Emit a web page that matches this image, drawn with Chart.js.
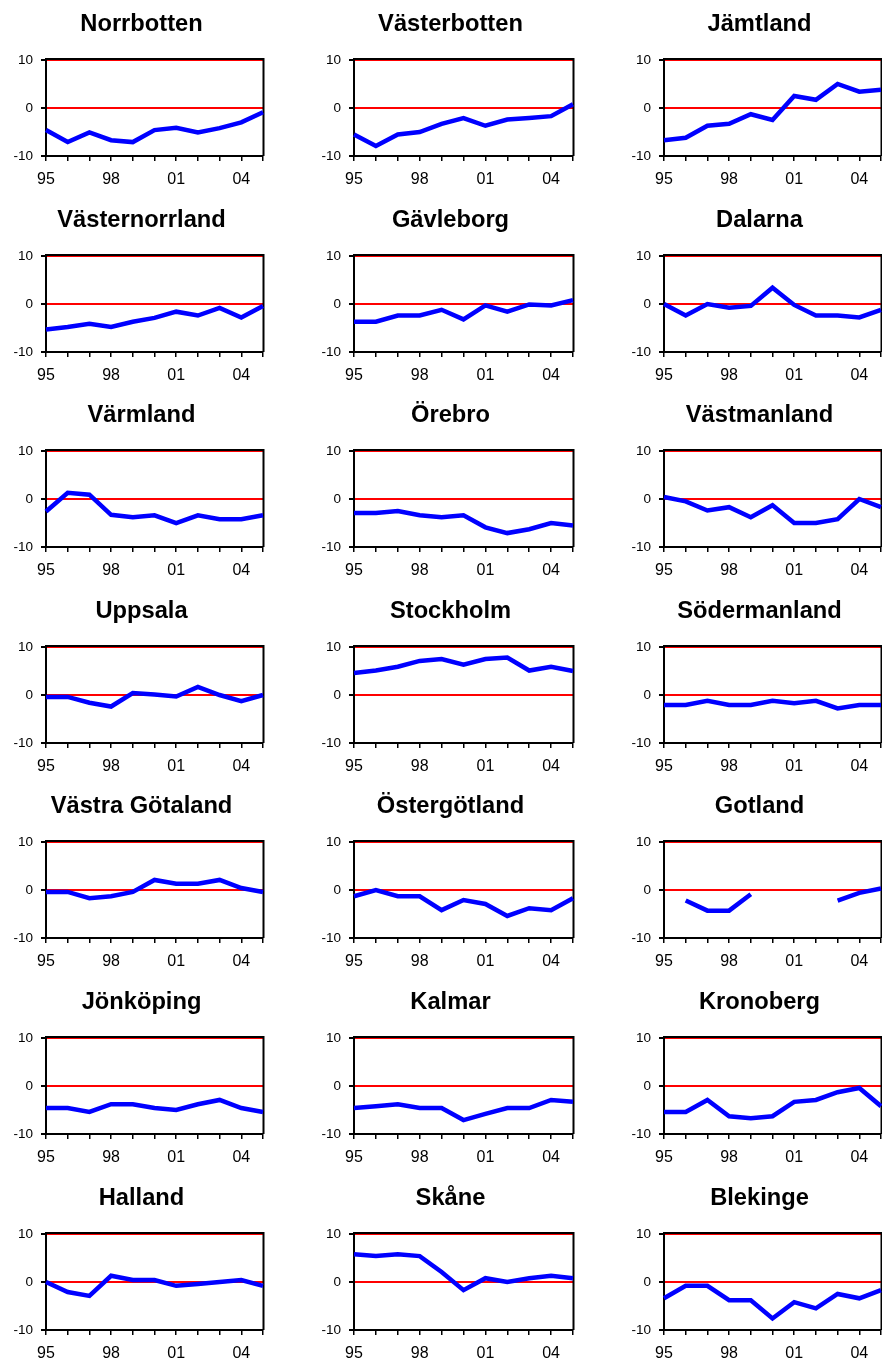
<!DOCTYPE html>
<html>
<head>
<meta charset="utf-8">
<script src="https://cdn.jsdelivr.net/npm/chart.js@4/dist/chart.umd.min.js"></script>
<style>
  html, body { margin: 0; padding: 0; background: #fff; }
  #wrap { position: relative; width: 882px; height: 1359px; overflow: hidden; }
  .panel { position: absolute; width: 294px; height: 196px; }
</style>
</head>
<body>
<div id="wrap"></div>
<script>
// ---- data ----
const years = ['95','96','97','98','99','00','01','02','03','04','05'];
const tickLabels = ['95','98','01','04'];
const yTicks = [-10, 0, 10];
const regionNames = [
  'Norrbotten','Västerbotten','Jämtland',
  'Västernorrland','Gävleborg','Dalarna',
  'Värmland','Örebro','Västmanland',
  'Uppsala','Stockholm','Södermanland',
  'Västra Götaland','Östergötland','Gotland',
  'Jönköping','Kalmar','Kronoberg',
  'Halland','Skåne','Blekinge'
];
const norrbotten     = [-4.6, -7.1, -5.1, -6.7, -7.1, -4.6, -4.1, -5.1, -4.2, -3.0, -0.9];
const vasterbotten   = [-5.5, -7.9, -5.5, -5.0, -3.3, -2.1, -3.7, -2.4, -2.1, -1.7, 0.8];
const jamtland       = [-6.7, -6.2, -3.7, -3.3, -1.3, -2.5, 2.5, 1.7, 5.0, 3.4, 3.8];
const vasternorrland = [-5.3, -4.8, -4.1, -4.8, -3.7, -2.9, -1.6, -2.4, -0.8, -2.8, -0.4];
const gavleborg      = [-3.7, -3.7, -2.4, -2.4, -1.2, -3.2, -0.3, -1.6, -0.1, -0.3, 0.8];
const dalarna        = [0.0, -2.4, 0.0, -0.8, -0.4, 3.4, -0.2, -2.4, -2.4, -2.8, -1.2];
const varmland       = [-2.6, 1.3, 0.9, -3.3, -3.8, -3.4, -5.0, -3.4, -4.2, -4.2, -3.4];
const orebro         = [-2.9, -2.9, -2.5, -3.4, -3.8, -3.4, -5.9, -7.1, -6.3, -5.0, -5.5];
const vastmanland    = [0.4, -0.5, -2.4, -1.7, -3.8, -1.3, -5.0, -5.0, -4.2, 0.0, -1.7];
const uppsala        = [-0.4, -0.4, -1.6, -2.4, 0.4, 0.1, -0.3, 1.7, 0.0, -1.3, 0.0];
const stockholm      = [4.6, 5.1, 5.9, 7.1, 7.5, 6.3, 7.5, 7.8, 5.1, 5.9, 5.0];
const sodermanland   = [-2.1, -2.1, -1.2, -2.1, -2.1, -1.2, -1.7, -1.2, -2.8, -2.1, -2.1];
const vastraGotaland = [-0.4, -0.4, -1.7, -1.3, -0.4, 2.1, 1.3, 1.3, 2.1, 0.4, -0.4];
const ostergotland   = [-1.3, 0.0, -1.3, -1.3, -4.2, -2.1, -2.9, -5.4, -3.8, -4.2, -1.7];
const gotland        = [null, -2.2, -4.3, -4.3, -0.9, null, null, null, -2.2, -0.6, 0.3];
const jonkoping      = [-4.6, -4.6, -5.4, -3.8, -3.8, -4.6, -5.0, -3.8, -2.9, -4.6, -5.4];
const kalmar         = [-4.6, -4.2, -3.8, -4.6, -4.6, -7.1, -5.8, -4.6, -4.6, -2.9, -3.3];
const kronoberg      = [-5.4, -5.4, -2.9, -6.3, -6.7, -6.3, -3.3, -2.9, -1.3, -0.4, -4.2];
const halland        = [0.0, -2.1, -2.9, 1.3, 0.4, 0.4, -0.8, -0.4, 0.0, 0.4, -0.8];
const skane          = [5.8, 5.4, 5.8, 5.4, 2.1, -1.7, 0.8, 0.0, 0.8, 1.3, 0.8];
const blekinge       = [-3.4, -0.8, -0.8, -3.8, -3.8, -7.6, -4.2, -5.5, -2.5, -3.4, -1.7];

const seriesList = [
  norrbotten, vasterbotten, jamtland,
  vasternorrland, gavleborg, dalarna,
  varmland, orebro, vastmanland,
  uppsala, stockholm, sodermanland,
  vastraGotaland, ostergotland, gotland,
  jonkoping, kalmar, kronoberg,
  halland, skane, blekinge
];

// ---- layout ----
const PANEL_W = 294, PANEL_H = 196, ROW_STEP = 195.6;
const plotLeft  = [46, 60, 76];      // chart-area left edge per column (panel coords)
const plotRight = [263, 279, 293];   // chart-area right edge per column
const PLOT_TOP = 60, PLOT_BOTTOM = 156;
const TITLE_BASELINE = 31;
const FONT = "'Liberation Sans', Arial, sans-serif";

Chart.defaults.font.family = FONT;
Chart.defaults.color = '#000';

const framePlugin = {
  id: 'frame',
  beforeDatasetsDraw(chart) {
    const { ctx, chartArea: a } = chart;
    ctx.save();
    ctx.strokeStyle = '#000';
    ctx.lineWidth = 2;
    ctx.beginPath();
    ctx.moveTo(a.left - 1, a.top - 1);
    ctx.lineTo(a.right + 0.5, a.top - 1);
    ctx.lineTo(a.right + 0.5, a.bottom);
    ctx.stroke();
    ctx.restore();
  }
};

// panel title, centred slightly left of the plot-area centre as in the source figure
const panelTitlePlugin = {
  id: 'panelTitle',
  afterDraw(chart, args, opts) {
    const { ctx, chartArea: a } = chart;
    ctx.save();
    ctx.font = 'bold 23.7px ' + FONT;
    ctx.fillStyle = '#000';
    ctx.textAlign = 'center';
    ctx.textBaseline = 'alphabetic';
    ctx.fillText(opts.text, (a.left + a.right) / 2 - 13, TITLE_BASELINE);
    ctx.restore();
  }
};

const wrap = document.getElementById('wrap');
regionNames.forEach((name, i) => {
  const col = i % 3, row = Math.floor(i / 3);
  const div = document.createElement('div');
  div.className = 'panel';
  div.style.left = (col * PANEL_W) + 'px';
  div.style.top = Math.round(row * ROW_STEP) + 'px';
  const cv = document.createElement('canvas');
  cv.width = PANEL_W; cv.height = PANEL_H;
  div.appendChild(cv);
  wrap.appendChild(div);

  const L = plotLeft[col], R = plotRight[col];
  new Chart(cv, {
    type: 'line',
    data: {
      labels: years,
      datasets: [{
        label: name,
        data: seriesList[i],
        borderColor: '#0000ff',
        borderWidth: 4.5,
        pointRadius: 0,
        tension: 0,
        spanGaps: false,
        fill: false
      }]
    },
    options: {
      responsive: false,
      animation: false,
      devicePixelRatio: 1,
      layout: { autoPadding: false, padding: { left: 0, right: PANEL_W - R, top: PLOT_TOP, bottom: 0 } },
      plugins: {
        legend: { display: false },
        tooltip: { enabled: false },
        title: { display: false },
        panelTitle: { text: name }
      },
      scales: {
        x: {
          type: 'category',
          offset: false,
          afterFit(scale) {
            scale.height = PANEL_H - PLOT_BOTTOM;
            scale.paddingLeft = 0; scale.paddingRight = 0;
          },
          border: { display: true, color: '#000', width: 2 },
          grid: { drawOnChartArea: false, drawTicks: true, tickLength: 5, tickColor: '#000', lineWidth: 1.5 },
          ticks: {
            autoSkip: false, maxRotation: 0, minRotation: 0, padding: 9,
            color: '#000',
            font: { family: FONT, size: 16 },
            callback(v, idx) { const l = years[idx]; return tickLabels.includes(l) ? l : ''; }
          }
        },
        y: {
          min: -10, max: 10,
          afterFit(scale) { scale.width = L; scale.paddingTop = 0; scale.paddingBottom = 0; },
          afterBuildTicks(scale) { scale.ticks = yTicks.map(v => ({ value: v })); },
          border: { display: true, color: '#000', width: 2 },
          grid: {
            drawOnChartArea: true, drawTicks: true, tickLength: 5,
            tickColor: '#000', lineWidth: 2,
            color: (c) => (c.tick && c.tick.value === -10) ? 'rgba(0,0,0,0)' : '#ff0000'
          },
          ticks: { padding: 8, color: '#000', font: { family: FONT, size: 13.5 } }
        }
      }
    },
    plugins: [framePlugin, panelTitlePlugin]
  });
});
</script>
</body>
</html>
